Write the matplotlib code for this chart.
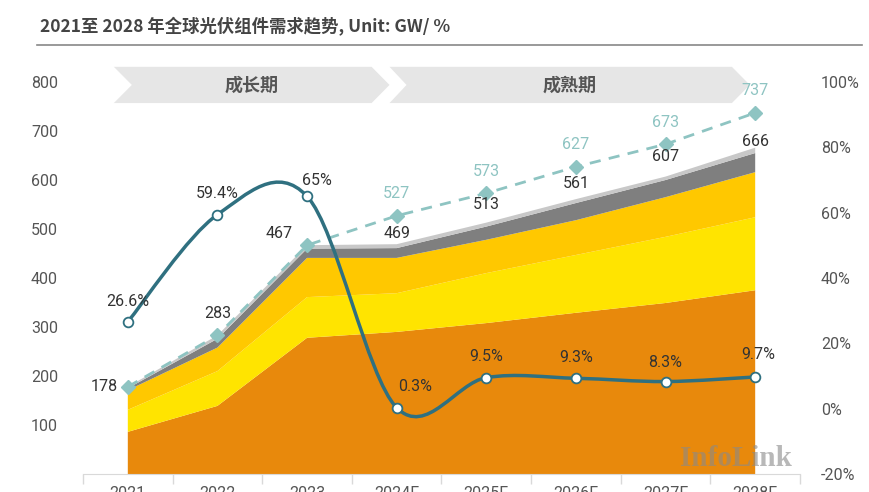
import numpy as np
import matplotlib
matplotlib.use("Agg")
import matplotlib.pyplot as plt
from matplotlib.path import Path
from matplotlib.patches import PathPatch, Polygon

plt.rcParams['font.family'] = ['Roboto', 'Noto Sans CJK SC', 'DejaVu Sans']

# data
years = ['2021', '2022', '2023', '2024F', '2025F', '2026F', '2027F', '2028F']
seg_orange = [86, 139, 278, 290, 308, 329, 349, 375]
seg_yellow = [45, 71, 83, 79, 102, 118, 135, 149]
seg_gold = [40, 48, 80, 72, 68, 71, 81, 92]
seg_darkgray = [4, 18, 19, 20, 27, 35, 35, 39]
seg_lightgray = [3, 7, 7, 8, 8, 8, 7, 11]
total_base = [178, 283, 467, 469, 513, 561, 607, 666]
total_high = [178, 283, 467, 527, 573, 627, 673, 737]
growth = [26.6, 59.4, 65, 0.3, 9.5, 9.3, 8.3, 9.7]
growth_labels = ['26.6%', '59.4%', '65%', '0.3%', '9.5%', '9.3%', '8.3%', '9.7%']
phases = ['成长期', '成熟期']

# label nudges (pixels)
base_dy = [0, 22, 12, 11, 18, 16, 20, 6]
base_dx = [-10, 0, -14, 0, 0, 0, 0, 0]
growth_dx = [0, 0, 10, 18, 0, 0, 0, 3]
growth_dy = [20, 21, 16, 21, 21, 21, 19, 22]

x = np.arange(len(years))

fig = plt.figure(figsize=(8.7, 4.92), dpi=100)
ax = fig.add_axes([83/870, 18/492, 717/870, 392/492])
ax2 = ax.twinx()

ax.stackplot(x, seg_orange, seg_yellow, seg_gold, seg_darkgray, seg_lightgray,
             colors=['#E8890C', '#FFE400', '#FFC800', '#7F7F7F', '#C8C8C8'],
             linewidth=0, zorder=2)

ax.plot(x, total_high, ls=(0, (4, 3)), color='#8EC4C2', lw=2, marker='D',
        ms=7, zorder=4)

ax.set_xlim(-0.5, 7.5)
ax.set_ylim(0, 800)
ax.set_yticks([100, 200, 300, 400, 500, 600, 700, 800])
ax.set_xticks(np.arange(-0.5, 8, 1))
ax.set_xticklabels([])
ax.set_xticks(x, minor=True)
ax.set_xticklabels(years, minor=True)
ax.tick_params(axis='x', which='major', length=7, color='#D9D9D9', width=1)
ax.tick_params(axis='x', which='minor', length=0, pad=9, labelsize=11.5,
               labelcolor='#555555')
ax.tick_params(axis='y', length=0, pad=18, labelsize=11.5, labelcolor='#555555')
for s in ['top', 'right', 'left']:
    ax.spines[s].set_visible(False)
ax.spines['bottom'].set_color('#D9D9D9')

# total labels
for i in range(len(years)):
    ax.annotate(str(total_base[i]), (x[i], total_base[i]),
                xytext=(base_dx[i], base_dy[i]), textcoords='offset pixels',
                ha='right' if base_dx[i] < -5 else 'center', va='center',
                fontsize=11.5, color='#333333', zorder=6)
    if total_high[i] != total_base[i]:
        ax.annotate(str(total_high[i]), (x[i], total_high[i]),
                    xytext=(0, 22), textcoords='offset pixels',
                    ha='center', va='center', fontsize=11.5, color='#8EC4C2',
                    zorder=6)

# smooth growth curve (Excel-style bezier)
pts = np.column_stack([x, growth]).astype(float)
verts = [pts[0]]
codes = [Path.MOVETO]
n = len(pts)
for i in range(n - 1):
    p_prev = pts[max(i - 1, 0)]
    p_next2 = pts[min(i + 2, n - 1)]
    c1 = pts[i] + (pts[i + 1] - p_prev) / 6
    c2 = pts[i + 1] - (p_next2 - pts[i]) / 6
    verts += [c1, c2, pts[i + 1]]
    codes += [Path.CURVE4] * 3
ax2.add_patch(PathPatch(Path(verts, codes), fill=False, edgecolor='#2F7080',
                        lw=2.5, zorder=3))
ax2.plot(x, growth, ls='none', marker='o', ms=7, mfc='white', mec='#2F7080',
         mew=1.3, zorder=5)
for i in range(len(years)):
    ax2.annotate(growth_labels[i], (x[i], growth[i]),
                 xytext=(growth_dx[i], growth_dy[i]), textcoords='offset pixels',
                 ha='center', va='center', fontsize=11.5, color='#333333')

ax2.set_ylim(-20, 100)
ax2.set_yticks(range(-20, 101, 20))
ax2.set_yticklabels([f'{v}%' for v in range(-20, 101, 20)])
ax2.tick_params(axis='y', length=0, pad=15, labelsize=11.5, labelcolor='#555555')
for s in ax2.spines.values():
    s.set_visible(False)

# phase banners
yb0, yb1 = 757, 831
ym = (yb0 + yb1) / 2
b1 = [(-0.156, yb1), (2.72, yb1), (2.92, ym), (2.72, yb0), (-0.156, yb0), (0.045, ym)]
b2 = [(2.92, yb1), (6.74, yb1), (6.94, ym), (6.74, yb0), (2.92, yb0), (3.11, ym)]
for b in (b1, b2):
    ax.add_patch(Polygon(b, closed=True, facecolor='#E6E6E6', edgecolor='none',
                         clip_on=False, zorder=1))
ax.text(1.38, ym, phases[0], ha='center', va='center', fontsize=13,
        color='#555555', family='Noto Sans CJK SC', fontweight='bold')
ax.text(4.93, ym, phases[1], ha='center', va='center', fontsize=13,
        color='#555555', family='Noto Sans CJK SC', fontweight='bold')

# watermark
fig.text(736/870, 1 - 458/492, 'InfoLink', ha='center', va='center',
         fontsize=21, family='Liberation Serif', fontweight='bold',
         color='#8A8A8A', alpha=0.6)

# title
fig.text(40/870, 1 - 27/492, '2021至 2028 年全球光伏组件需求趋势, Unit: GW/ %',
         ha='left', va='center', fontsize=12.5, fontweight='bold',
         color='#444444', family=['Noto Sans CJK SC', 'DejaVu Sans'])
fig.add_artist(plt.Line2D([37/870, 862/870], [1 - 45/492, 1 - 45/492],
                          color='#888888', lw=1.2))

fig.savefig('out.png', dpi=100)
